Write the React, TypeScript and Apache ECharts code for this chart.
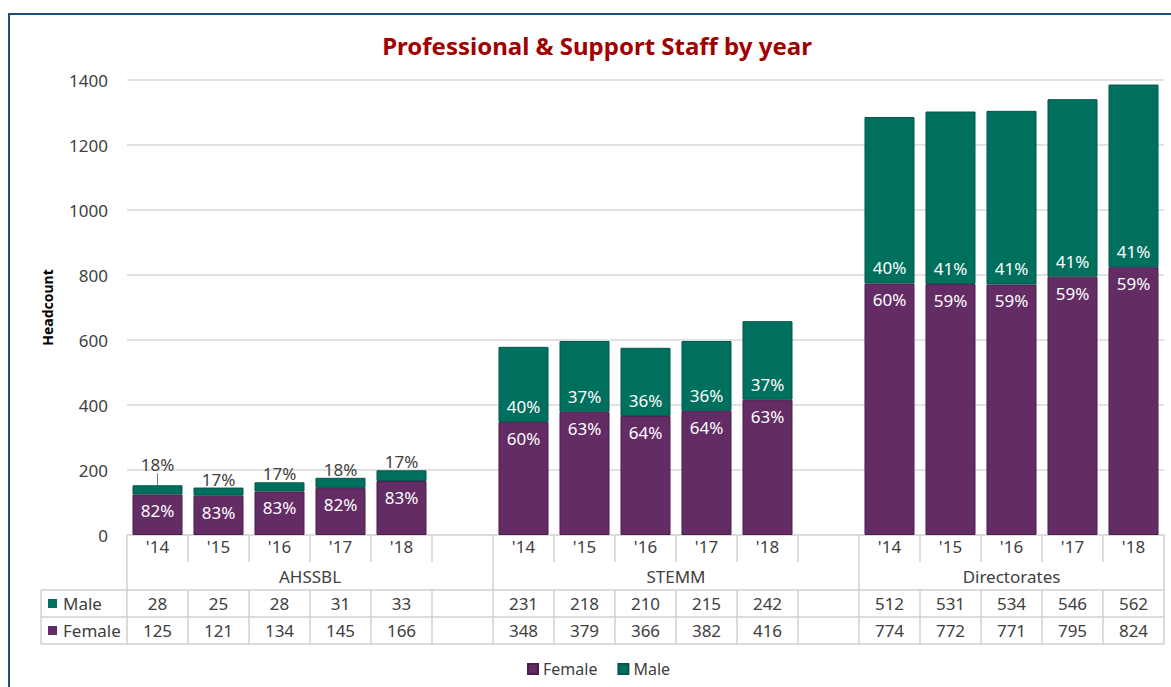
import React, { useEffect, useRef } from "react";
import * as echarts from "echarts";

const groups = ["AHSSBL", "STEMM", "Directorates"];
const years = ["'14", "'15", "'16", "'17", "'18"];
const femaleAHSSBL = [125, 121, 134, 145, 166];
const maleAHSSBL = [28, 25, 28, 31, 33];
const femaleSTEMM = [348, 379, 366, 382, 416];
const maleSTEMM = [231, 218, 210, 215, 242];
const femaleDirectorates = [774, 772, 771, 795, 824];
const maleDirectorates = [512, 531, 534, 546, 562];
const yTicks = { min: 0, max: 1400, interval: 200 };

const FEMALE = "#632C65";
const MALE = "#00705E";
const TXT = "#404040";
const FONT = '"Noto Sans", "Open Sans", sans-serif';

const femaleByGroup = [femaleAHSSBL, femaleSTEMM, femaleDirectorates];
const maleByGroup = [maleAHSSBL, maleSTEMM, maleDirectorates];

export default function App() {
  const ref = useRef<HTMLDivElement>(null);
  useEffect(() => {
    document.body.style.margin = "0";
    const chart = echarts.init(ref.current!, null, { renderer: "svg" });

    const categories: string[] = [];
    const femaleData: any[] = [];
    const maleData: any[] = [];
    const slotGroup: number[] = [];
    const slotIdx: number[] = [];
    groups.forEach((g, gi) => {
      years.forEach((y, yi) => {
        categories.push(g + "|" + y);
        slotGroup.push(gi);
        slotIdx.push(yi);
        const f = femaleByGroup[gi][yi];
        const m = maleByGroup[gi][yi];
        const tot = f + m;
        femaleData.push({
          value: f,
          label: { formatter: Math.round((f / tot) * 100) + "%" },
        });
        const small = gi === 0;
        const item: any = {
          value: m,
          label: small
            ? { position: "top", color: TXT, distance: 0, formatter: Math.round((m / tot) * 100) + "%" }
            : { position: "insideBottom", color: "#fff", distance: 7, formatter: Math.round((m / tot) * 100) + "%" },
        };
        if (small && yi === 0) {
          item.labelLine = { show: true, lineStyle: { color: "#7f7f7f", width: 1 } };
        }
        maleData.push(item);
      });
      if (gi < groups.length - 1) {
        categories.push(g + "|");
        slotGroup.push(gi);
        slotIdx.push(-1);
        femaleData.push({ value: null, label: { show: false } });
        maleData.push({ value: null, label: { show: false } });
      }
    });

    chart.setOption({
      animation: false,
      textStyle: { fontFamily: FONT },
      grid: { left: 127, right: 7, top: 80, bottom: 152 },
      legend: {
        data: ["Female", "Male"],
        left: 522,
        top: 656,
        icon: "rect",
        itemWidth: 10,
        itemHeight: 10,
        itemGap: 20,
        textStyle: { fontSize: 16, color: TXT, fontFamily: FONT },
      },
      xAxis: {
        type: "category",
        data: categories,
        axisLine: { show: true, lineStyle: { color: "#d9d9d9", width: 1.5 } },
        axisTick: { show: false },
        axisLabel: {
          interval: 0,
          margin: 3,
          fontSize: 17,
          color: TXT,
          fontFamily: FONT,
          formatter: (v: string) => v.split("|")[1] || "",
        },
      },
      yAxis: {
        type: "value",
        min: yTicks.min,
        max: yTicks.max,
        interval: yTicks.interval,
        name: "Headcount",
        nameLocation: "middle",
        nameGap: 73,
        nameTextStyle: { fontWeight: "bold", fontSize: 14, color: "#000", fontFamily: FONT },
        axisLine: { show: false },
        axisTick: { show: false },
        axisLabel: { fontSize: 17, color: TXT, margin: 19, fontFamily: FONT, formatter: (v: number) => String(v) },
        splitLine: { lineStyle: { color: "#d9d9d9", width: 1.5 } },
      },
      series: [
        {
          name: "Female",
          type: "bar",
          stack: "s",
          barCategoryGap: "18%",
          itemStyle: { color: FEMALE, borderColor: "#4a1d4c", borderWidth: 1 },
          label: { show: true, position: "insideTop", distance: 8, color: "#fff", fontSize: 17, fontFamily: FONT },
          data: femaleData,
        },
        {
          name: "Male",
          type: "bar",
          stack: "s",
          itemStyle: { color: MALE, borderColor: "#00574a", borderWidth: 1 },
          label: { show: true, fontSize: 17, fontFamily: FONT },
          labelLayout: (p: any) => (p.dataIndex === 0 ? { dy: -12 } : {}),
          data: maleData,
        },
      ],
    });

    // data table via axis pixel positions
    const c0 = chart.convertToPixel({ xAxisIndex: 0 }, 0) as number;
    const c1 = chart.convertToPixel({ xAxisIndex: 0 }, 1) as number;
    const w = c1 - c0;
    const x0 = c0 - w / 2;
    const n = categories.length;
    const xEnd = x0 + n * w;
    const yBase = chart.convertToPixel({ yAxisIndex: 0 }, 0) as number;
    const yYearEnd = yBase + 27;
    const yMaleTop = yBase + 55;
    const yFemTop = yBase + 82;
    const yTableEnd = yBase + 109;
    const tableLeft = 41;
    const lineStyle = { stroke: "#d0d0d0", lineWidth: 1.5 };
    const els: any[] = [];
    const vline = (x: number, y1: number, y2: number) =>
      els.push({ type: "line", silent: true, shape: { x1: x, y1, x2: x, y2 }, style: lineStyle });
    const hline = (y: number, x1: number, x2: number) =>
      els.push({ type: "line", silent: true, shape: { x1, y1: y, x2, y2: y }, style: lineStyle });
    const text = (t: string, x: number, y: number, align = "center") =>
      els.push({
        type: "text",
        silent: true,
        x,
        y,
        style: {
          text: t,
          x: 0,
          y: 0,
          fill: TXT,
          font: `17px ${FONT}`,
          textAlign: align,
          textVerticalAlign: "middle",
          align,
          verticalAlign: "middle",
        },
      });

    // group boundaries
    const bounds: number[] = [0];
    for (let i = 1; i < n; i++) if (slotGroup[i] !== slotGroup[i - 1]) bounds.push(i);
    bounds.push(n);
    for (let i = 0; i <= n; i++) {
      const x = x0 + i * w;
      vline(x, yBase, yYearEnd);
      vline(x, yMaleTop, yTableEnd);
    }
    bounds.forEach((b) => vline(x0 + b * w, yYearEnd, yMaleTop));
    vline(tableLeft, yMaleTop, yTableEnd);
    [yMaleTop, yFemTop, yTableEnd].forEach((y) => hline(y, tableLeft, xEnd));

    for (let b = 0; b < bounds.length - 1; b++) {
      const xm = x0 + ((bounds[b] + bounds[b + 1]) / 2) * w;
      text(groups[b], xm, (yYearEnd + yMaleTop) / 2);
    }
    for (let i = 0; i < n; i++) {
      if (slotIdx[i] < 0) continue;
      const xc = x0 + (i + 0.5) * w;
      text(String(maleByGroup[slotGroup[i]][slotIdx[i]]), xc, (yMaleTop + yFemTop) / 2);
      text(String(femaleByGroup[slotGroup[i]][slotIdx[i]]), xc, (yFemTop + yTableEnd) / 2);
    }
    // row headers
    els.push({ type: "rect", silent: true, shape: { x: 48, y: (yMaleTop + yFemTop) / 2 - 4.5, width: 9, height: 9 }, style: { fill: MALE } });
    text("Male", 63, (yMaleTop + yFemTop) / 2, "left");
    els.push({ type: "rect", silent: true, shape: { x: 48, y: (yFemTop + yTableEnd) / 2 - 4.5, width: 9, height: 9 }, style: { fill: FEMALE } });
    text("Female", 63, (yFemTop + yTableEnd) / 2, "left");

    // title
    els.push({
      type: "text",
      silent: true,
      x: 597,
      y: 45,
      style: {
        text: "Professional & Support Staff by year",
        x: 0,
        y: 0,
        fill: "#A00000",
        font: `bold 24px ${FONT}`,
        textAlign: "center",
        textVerticalAlign: "middle",
        align: "center",
        verticalAlign: "middle",
      },
    });
    // frame
    els.push({
      type: "rect",
      silent: true,
      shape: { x: 9, y: 14, width: 1200, height: 700 },
      style: { fill: "none", stroke: "#1F4E79", lineWidth: 2 },
    });

    chart.setOption({ graphic: { elements: els } });

    return () => chart.dispose();
  }, []);
  return <div ref={ref} style={{ width: 1171, height: 687 }} />;
}
